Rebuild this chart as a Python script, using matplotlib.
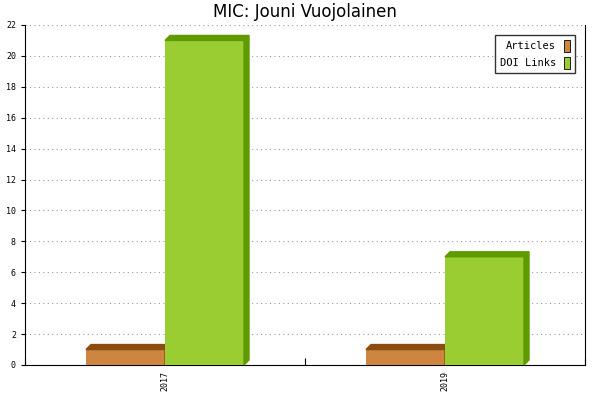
import matplotlib
matplotlib.use("Agg")
import matplotlib.pyplot as plt
from matplotlib.patches import Polygon

years = ["2017", "2019"]
articles = [1, 1]
doi_links = [21, 7]

fig = plt.figure(figsize=(6, 4), dpi=100)
ax = fig.add_axes([25/600, 35/400, 560/600, 340/400])
ax.set_xlim(0, 2)
ax.set_ylim(0, 22)

w = 79/560*2
dx = 5/560*2
dy = 5/340*22

def bar3d(x0, h, face, dark, label):
    ax.bar(x0, h, width=w, align="edge", color=face, edgecolor="none", label=label, zorder=3)
    top = [(x0, h), (x0+w, h), (x0+w+dx, h+dy), (x0+dx, h+dy)]
    side = [(x0+w, 0), (x0+w+dx, dy), (x0+w+dx, h+dy), (x0+w, h)]
    ax.add_patch(Polygon(top, closed=True, color=dark, zorder=3, clip_on=False))
    ax.add_patch(Polygon(side, closed=True, color=dark, zorder=3, clip_on=False))

for i in range(len(years)):
    c = i + 0.5
    bar3d(c - w, articles[i], "#cd853f", "#8b4c12", "Articles" if i == 0 else None)
    bar3d(c, doi_links[i], "#9acd32", "#5e9a00", "DOI Links" if i == 0 else None)

ax.set_yticks(range(0, 23, 2))
ax.set_xticks([0, 1, 2])
ax.set_xticklabels([])
ax.set_xticks([i + 0.5 for i in range(len(years))], minor=True)
ax.set_xticklabels(years, minor=True, rotation=90, fontsize=6, family="DejaVu Sans Mono")
ax.tick_params(axis="x", which="minor", length=0, pad=4)
ax.tick_params(axis="x", which="major", length=5, direction="in")
ax.tick_params(axis="y", labelsize=6, length=3)
for t in ax.get_yticklabels():
    t.set_family("DejaVu Sans Mono")
ax.yaxis.grid(True, linestyle=(0, (1, 3)), color="#999999", linewidth=0.8)
ax.set_axisbelow(True)
ax.spines["top"].set_visible(False)
ax.spines["right"].set_visible(True)
ax.spines["right"].set_color("#000000")
ax.set_title("MIC: Jouni Vuojolainen", fontsize=12, pad=6)

leg = ax.legend(loc="upper right", prop={"family": "DejaVu Sans Mono", "size": 7.5},
                fancybox=False, edgecolor="black", markerfirst=False,
                handlelength=0.6, handleheight=1.4, borderaxespad=1.0)
for h in leg.legend_handles:
    h.set_edgecolor("black")
    h.set_linewidth(0.6)
fig.savefig("out.png", dpi=100)
